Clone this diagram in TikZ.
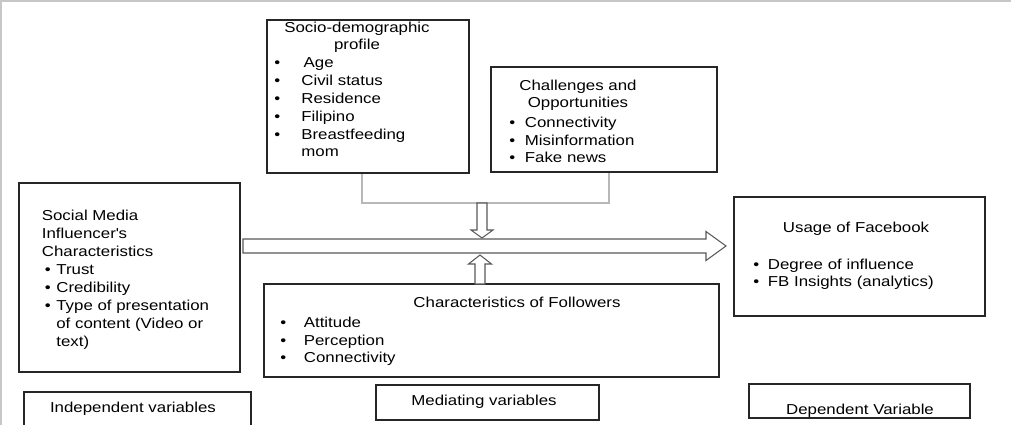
\documentclass[tikz,border=0pt]{standalone}
\usepackage{fontspec}
\setmainfont{Liberation Sans}[FakeStretch=1.17]
\usetikzlibrary{calc,fit}
\newcommand{\bul}[1]{\makebox[#1][l]{\textbullet}}
\begin{document}
\begin{tikzpicture}[x=0.2mm, y=-0.2mm,
		box/.style={draw=black!85, line width=0.9pt, inner sep=0pt},
		txt/.style={inner sep=0pt, font=\fontsize{8.2}{10.24}\selectfont},
		fatarrow/.style={draw=black!65, line width=0.6pt, fill=white},
		link/.style={draw=black!28, line width=0.6pt}]
			\useasboundingbox (0,0) rectangle (1011,425);
			\draw[black!22, line width=0.8pt] (1,425) -- (1,1) -- (1011,1);
			
			\node[box, fit={(267,20) (469,173)}] (socio) {};
			\node[txt, align=center, anchor=base] (sociohead) at (357,50) {Socio-demographic\\profile};
			\node[txt, align=left, anchor=base west] (sociolist) at (274,157) {\bul{5.4mm}\,Age\\\bul{5.4mm}Civil status\\\bul{5.4mm}Residence\\\bul{5.4mm}Filipino\\\bul{5.4mm}Breastfeeding\\\hspace*{5.4mm}mom};
			
			\node[box, fit={(491,67) (717,172)}] (chal) {};
			\node[txt, align=center, anchor=base] (chalhead) at (578,108) {Challenges and\\Opportunities};
			\node[txt, align=left, anchor=base west] (challist) at (509,163) {\bul{3.1mm}Connectivity\\\bul{3.1mm}Misinformation\\\bul{3.1mm}Fake news};
			
			\node[box, fit={(19,183) (240,372)}] (smi) {};
			\node[txt, align=left, anchor=base west] (smitext) at (41.5,346) {Social Media\\Influencer\textquotesingle s\\Characteristics\\\hspace*{0.6mm}\bul{2.3mm}Trust\\\hspace*{0.6mm}\bul{2.3mm}Credibility\\\hspace*{0.6mm}\bul{2.3mm}Type of presentation\\\hspace*{2.9mm}of content (Video or\\\hspace*{2.9mm}text)};
			
			\node[box, fit={(264,284) (719,377)}] (flw) {};
			\node[txt, anchor=base] (flwhead) at (517,307) {Characteristics of Followers};
			\node[txt, align=left, anchor=base west] (flwlist) at (280,363) {\bul{4.7mm}Attitude\\\bul{4.7mm}Perception\\\bul{4.7mm}Connectivity};
			
			\node[box, fit={(734,197) (985,316)}] (fb) {};
			\node[txt, anchor=base] (fbhead) at (856,233) {Usage of Facebook};
			\node[txt, align=left, anchor=base west] (fblist) at (753,287) {\bul{2.9mm}Degree of influence\\\bul{2.9mm}FB Insights (analytics)};
			
			\node[box, fit={(24,392) (251,440)}] (indep) {};
			\node[txt, anchor=base] (indeplabel) at (133,412) {Independent variables};
			\node[box, fit={(376,385) (599,420)}] (med) {};
			\node[txt, anchor=base] (medlabel) at (484,405) {Mediating variables};
			\node[box, fit={(749,384) (970,418)}] (dep) {};
			\node[txt, anchor=base] (deplabel) at (860,414) {Dependent Variable};
			
			\coordinate (join) at (482,203);
			\coordinate (dtip) at (482,238);
			\coordinate (ubase) at (480,284);
			\coordinate (utip) at (480,255);
			\coordinate (mtail) at (243,246);
			\coordinate (mtip) at (726,246);
			
			\draw[link] ($(socio.south)+(-6,0)$) |- (join) -| ($(chal.south)+(5,0)$);
			\draw[fatarrow] ($(join)+(-5,0)$) -- ($(dtip)+(-5,-8)$) -- ($(dtip)+(-11,-8)$) -- (dtip) -- ($(dtip)+(11,-8)$) -- ($(dtip)+(5,-8)$) -- ($(join)+(5,0)$) -- cycle;
			\draw[fatarrow] ($(ubase)+(-5,0)$) -- ($(utip)+(-5,9)$) -- ($(utip)+(-11.5,9)$) -- (utip) -- ($(utip)+(11.5,9)$) -- ($(utip)+(5,9)$) -- ($(ubase)+(5,0)$) -- cycle;
			\draw[fatarrow] ($(mtail)+(0,-7)$) -- ($(mtip)+(-20,-7)$) -- ($(mtip)+(-20,-14.5)$) -- (mtip) -- ($(mtip)+(-20,14.5)$) -- ($(mtip)+(-20,7)$) -- ($(mtail)+(0,7)$) -- cycle;
		\end{tikzpicture}
\end{document}
